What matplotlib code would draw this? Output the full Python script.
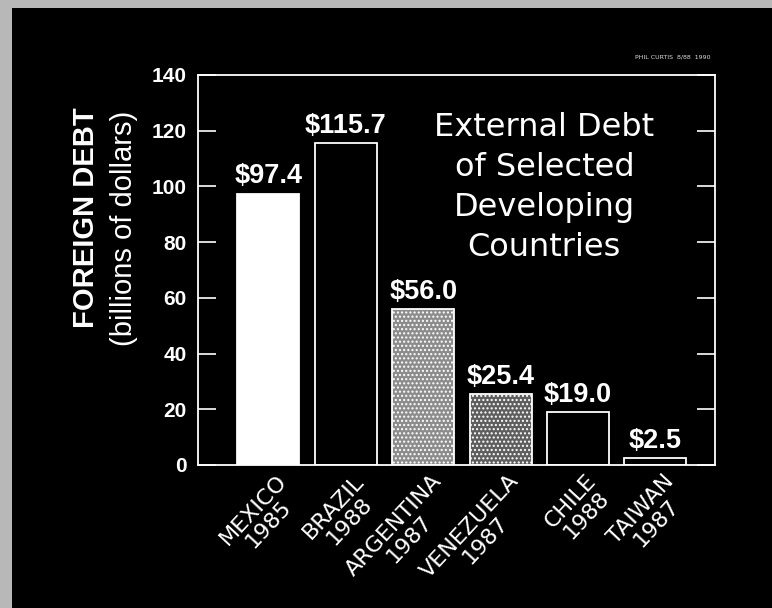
#!/usr/bin/env python3
"""External debt of selected developing countries, black-board style bar chart."""

import matplotlib

matplotlib.use("Agg")
import matplotlib.pyplot as plt
from matplotlib.patches import Rectangle

countries = ["MEXICO", "BRAZIL", "ARGENTINA", "VENEZUELA", "CHILE", "TAIWAN"]
years = ["1985", "1988", "1987", "1987", "1988", "1987"]
debt = [97.4, 115.7, 56.0, 25.4, 19.0, 2.5]
value_labels = ["$97.4", "$115.7", "$56.0", "$25.4", "$19.0", "$2.5"]
y_ticks = [0, 20, 40, 60, 80, 100, 120, 140]

# fill style per bar: white, outline, speckled, speckled, outline, outline
faces = ["white", "black", "#8c8c8c", "#5e5e5e", "black", "black"]
hatches = [None, None, "....", "....", None, None]

FG = "white"
BOLD = ["Liberation Sans", "DejaVu Sans"]

fig = plt.figure(figsize=(7.72, 6.08), dpi=100, facecolor="black")

# scanned paper edge on the left and top
fig.patches.append(Rectangle((0, 0), 12 / 772, 1, transform=fig.transFigure,
                             facecolor="#b8b8b8", edgecolor="none", zorder=0))
fig.patches.append(Rectangle((0, 1 - 8 / 608), 1, 8 / 608, transform=fig.transFigure,
                             facecolor="#b8b8b8", edgecolor="none", zorder=0))

ax = fig.add_axes([198 / 772, 1 - 465 / 608, (715 - 198) / 772, (465 - 75) / 608])
ax.set_facecolor("black")

x = list(range(len(countries)))
for i in x:
    ax.bar(i, debt[i], width=0.8, color=faces[i], edgecolor=FG, linewidth=1.3,
           hatch=hatches[i], zorder=2)
    ax.text(i, debt[i] + 1.5, value_labels[i], ha="center", va="bottom",
            color=FG, fontsize=19.5, fontweight="bold", family=BOLD)
    ax.text(i + 0.1, -0.015, f"{countries[i]}\n{years[i]}",
            transform=ax.get_xaxis_transform(), rotation=47,
            rotation_mode="anchor", ha="right", va="top", multialignment="center",
            color=FG, fontsize=16, family=["DejaVu Sans"], linespacing=1.05)

ax.set_xlim(-0.91, 5.77)
ax.set_ylim(0, 140)
ax.set_xticks([])
ax.set_yticks(y_ticks)
ax.set_yticklabels([str(v) for v in y_ticks], color=FG, fontsize=15,
                   fontweight="bold", family=BOLD)
ax.tick_params(axis="y", direction="in", length=13, width=1.2, color=FG,
               left=True, right=True, pad=8)
for s in ax.spines.values():
    s.set_color(FG)
    s.set_linewidth(1.3)

ax.text(0.67, 0.905, "External Debt\nof Selected\nDeveloping\nCountries",
        transform=ax.transAxes, ha="center", va="top", color=FG,
        fontsize=23, family=["DejaVu Sans"], linespacing=1.38)

fig.text(0.92, 1 - 57 / 608, "PHIL CURTIS  8/88  1990", ha="right", va="center",
         color="#dddddd", fontsize=4.5)

fig.text(86 / 772, 1 - 218 / 608, "FOREIGN DEBT", rotation=90, ha="center",
         va="center", color=FG, fontsize=21, fontweight="bold", family=BOLD)
fig.text(124 / 772, 1 - 228 / 608, "(billions of dollars)", rotation=90,
         ha="center", va="center", color=FG, fontsize=21, family=BOLD)

fig.savefig("out.png", dpi=100, facecolor=fig.get_facecolor())
